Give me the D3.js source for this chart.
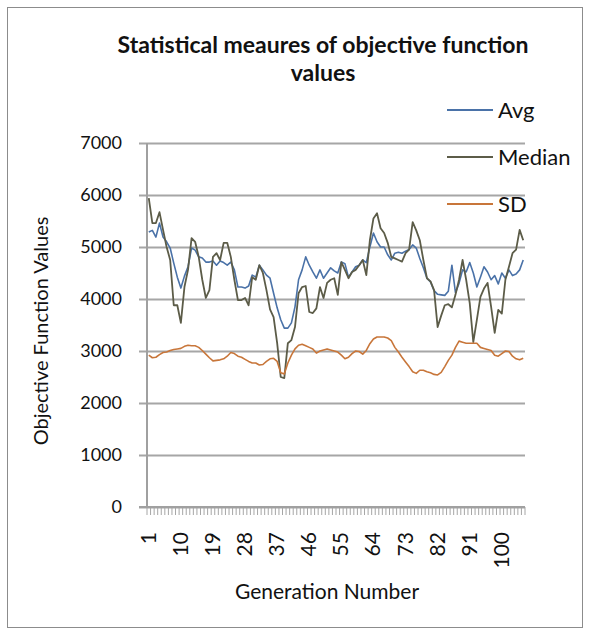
<!DOCTYPE html>
<html>
<head>
<meta charset="utf-8">
<script src="https://cdn.jsdelivr.net/npm/d3@7"></script>
<style>
  body { margin: 0; background: #fff; }
  text { font-family: Lato, "Liberation Sans", sans-serif; fill: #111; }
</style>
</head>
<body>
<svg id="viz" width="589" height="636"></svg>
<script>
// values, one per generation (1..106)
var avgValues = [5290,5320,5190,5460,5190,5100,4980,4690,4420,4210,
  4440,4620,4980,4940,4810,4790,4710,4710,4730,4650,
  4730,4700,4650,4710,4560,4230,4230,4210,4250,4460,
  4420,4650,4560,4460,4400,4110,3830,3600,3440,3440,
  3540,3850,4370,4560,4810,4650,4520,4400,4560,4400,
  4500,4600,4540,4500,4710,4680,4420,4520,4620,4650,
  4750,4700,5000,5270,5100,5000,5000,4850,4750,4880,
  4900,4880,4920,4950,5040,4980,4780,4600,4400,4330,
  4160,4090,4080,4070,4150,4650,4120,4300,4560,4520,
  4700,4500,4230,4420,4620,4520,4370,4450,4290,4500,
  4400,4560,4450,4480,4560,4750];
var medianValues = [5940,5460,5460,5670,5330,5000,4750,3880,3880,3540,
  4230,4560,5170,5100,4810,4370,4020,4170,4810,4880,
  4750,5080,5080,4810,4370,3980,3980,4020,3880,4420,
  4370,4650,4500,4170,3800,3650,3150,2500,2480,3150,
  3210,3460,4110,4230,4250,3750,3730,3820,4230,4020,
  4310,4370,4400,4080,4710,4560,4400,4520,4560,4650,
  4750,4460,5130,5550,5650,5360,5270,5080,4810,4780,
  4750,4720,4880,4950,5480,5320,5130,4750,4400,4340,
  4170,3460,3680,3880,3900,3840,4080,4370,4750,4370,
  3920,3170,3600,4040,4200,4310,3850,3350,3790,3720,
  4370,4620,4880,4950,5330,5130];
var sdValues = [2920,2870,2880,2930,2970,2980,3010,3030,3040,3050,
  3090,3110,3100,3100,3070,3010,2940,2870,2810,2820,
  2830,2850,2900,2970,2950,2900,2880,2840,2800,2770,
  2770,2730,2740,2800,2850,2860,2800,2580,2560,2770,
  2920,3040,3110,3130,3100,3070,3040,2960,3000,3020,
  3040,3020,3000,2980,2920,2850,2880,2950,3000,2990,
  2940,3010,3140,3230,3270,3270,3270,3250,3200,3070,
  2980,2880,2790,2700,2600,2570,2630,2630,2600,2580,
  2550,2540,2590,2700,2820,2920,3070,3190,3170,3150,
  3150,3150,3150,3070,3050,3030,3010,2920,2900,2950,
  3000,2990,2900,2850,2830,2860];
var generations = d3.range(1, avgValues.length + 1);
var yTicks = [0,1000,2000,3000,4000,5000,6000,7000];
var xTickLabels = [1,10,19,28,37,46,55,64,73,82,91,100];
var seriesNames = ["Avg", "Median", "SD"];

var colors = {Avg: "#4a72a8", Median: "#5c5c48", SD: "#c8763a"};
var plot = {left: 147, right: 525, top: 143, bottom: 507};

var svg = d3.select("#viz");

// outer chart border
svg.append("rect")
  .attr("x", 7.5).attr("y", 7.5)
  .attr("width", 575).attr("height", 620)
  .attr("fill", "none").attr("stroke", "#8c8c8c");

var xScale = d3.scaleBand()
  .domain(generations)
  .range([plot.left, plot.right]);
var yScale = d3.scaleLinear()
  .domain([0, 7000])
  .range([plot.bottom, plot.top]);

// gridlines + y labels
var yAxis = svg.append("g")
  .attr("transform", "translate(" + plot.left + ",0)")
  .call(d3.axisLeft(yScale).tickValues(yTicks).tickFormat(d3.format("d")).tickSize(8).tickPadding(17));
yAxis.select(".domain").remove();
yAxis.selectAll("line").attr("stroke", "#a6a6a6").attr("stroke-width", 2)
  .attr("x2", -8).attr("x1", plot.right - plot.left);
yAxis.selectAll("text").style("font-size", "18px");

// y axis line
svg.append("line")
  .attr("x1", plot.left).attr("x2", plot.left)
  .attr("y1", plot.top).attr("y2", plot.bottom)
  .attr("stroke", "#a0a0a0").attr("stroke-width", 2);

// x ticks between categories
var bw = xScale.bandwidth();
var tickPos = generations.map(function(g){ return xScale(g); }).concat([xScale(generations[generations.length - 1]) + bw]);
svg.append("g").selectAll("line")
  .data(tickPos)
  .join("line")
  .attr("x1", function(d){ return d; }).attr("x2", function(d){ return d; })
  .attr("y1", plot.bottom).attr("y2", plot.bottom + 8)
  .attr("stroke", "#a6a6a6").attr("stroke-width", 1);

svg.append("line")
  .attr("x1", plot.left - 8).attr("x2", plot.right)
  .attr("y1", plot.bottom).attr("y2", plot.bottom)
  .attr("stroke", "#a0a0a0").attr("stroke-width", 2);

// x labels, rotated
svg.append("g").selectAll("text")
  .data(xTickLabels)
  .join("text")
  .attr("transform", function(d){
    return "translate(" + (xScale(d) + bw / 2 + 7) + ",532) rotate(-90)";
  })
  .attr("text-anchor", "end")
  .style("font-size", "21px")
  .text(function(d){ return d; });

// lines
var line = d3.line()
  .x(function(d, i){ return xScale(generations[i]) + bw / 2; })
  .y(function(d){ return yScale(d); });

var seriesData = {Avg: avgValues, Median: medianValues, SD: sdValues};
var widths = {Avg: 1.6, Median: 1.8, SD: 1.6};
seriesNames.forEach(function(name){
  svg.append("path")
    .datum(seriesData[name])
    .attr("fill", "none")
    .attr("stroke", colors[name])
    .attr("stroke-width", widths[name])
    .attr("stroke-linejoin", "round")
    .attr("d", line);
});

// title
var title = svg.append("text")
  .attr("x", 323).attr("y", 53)
  .attr("text-anchor", "middle")
  .style("font-size", "23px").style("font-weight", "bold");
title.append("tspan").attr("x", 323).text("Statistical meaures of objective function");
title.append("tspan").attr("x", 323).attr("dy", 28).text("values");

// legend
var legendY = [110, 157, 204];
seriesNames.forEach(function(name, i){
  svg.append("line")
    .attr("x1", 447).attr("x2", 493)
    .attr("y1", legendY[i]).attr("y2", legendY[i])
    .attr("stroke", colors[name]).attr("stroke-width", 2);
  svg.append("text")
    .attr("x", 498).attr("y", legendY[i] + 8)
    .style("font-size", "22px")
    .text(name);
});

// axis titles
svg.append("text")
  .attr("transform", "translate(48,331) rotate(-90)")
  .attr("text-anchor", "middle")
  .style("font-size", "20px")
  .text("Objective Function Values");

svg.append("text")
  .attr("x", 327).attr("y", 599)
  .attr("text-anchor", "middle")
  .style("font-size", "21px")
  .text("Generation Number");
</script>
</body>
</html>
